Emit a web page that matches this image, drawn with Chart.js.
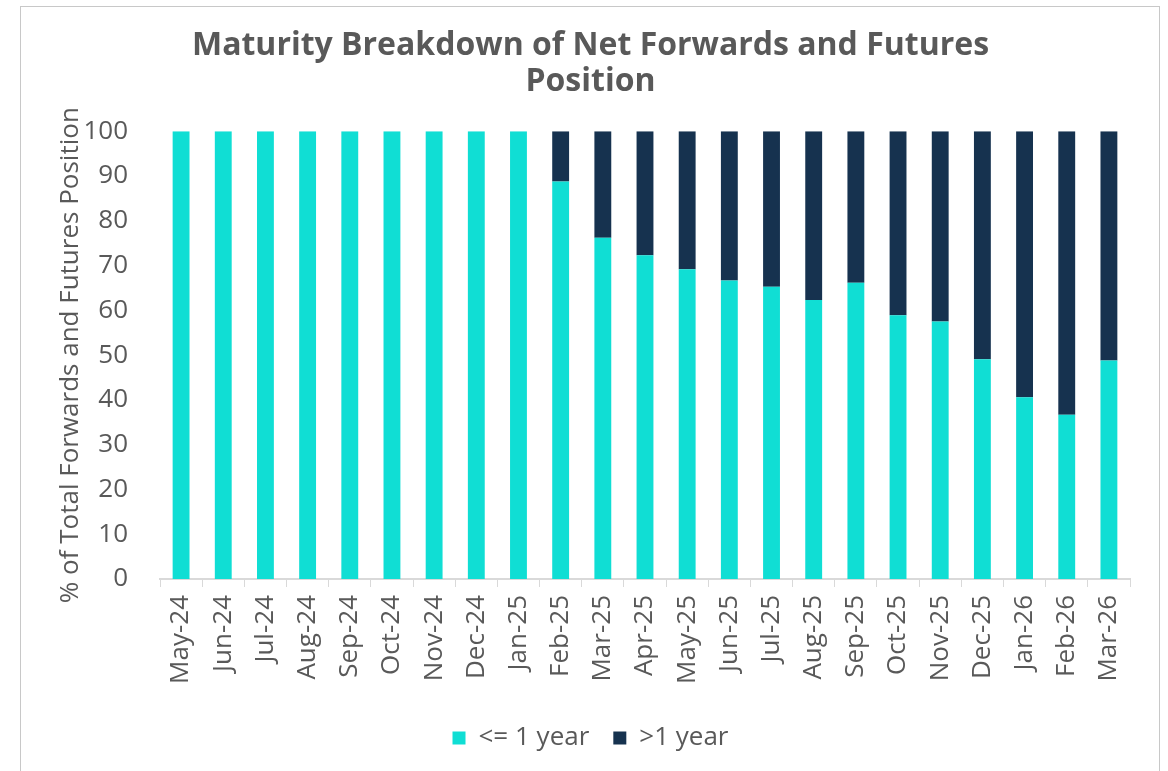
<!DOCTYPE html>
<html>
<head>
<meta charset="utf-8">
<script src="https://cdn.jsdelivr.net/npm/chart.js@4"></script>
<style>
  html, body { margin: 0; padding: 0; background: #fff; }
  #wrap { position: absolute; left: 0; top: 0; width: 1168px; height: 771px; }
</style>
</head>
<body>
<div id="wrap"><canvas id="barCanvas" width="1168" height="771"></canvas></div>
<script>
// months along the x axis
var months = ["May-24","Jun-24","Jul-24","Aug-24","Sep-24","Oct-24","Nov-24","Dec-24",
	"Jan-25","Feb-25","Mar-25","Apr-25","May-25","Jun-25","Jul-25","Aug-25","Sep-25",
	"Oct-25","Nov-25","Dec-25","Jan-26","Feb-26","Mar-26"];

// share of position maturing within one year (%)
var shortTerm = [100,100,100,100,100,100,100,100,100,88.8,76.2,72.3,69.2,66.7,65.3,62.3,66.2,58.9,57.5,49.1,40.6,36.7,48.8];

// share maturing beyond one year (%)
var longTerm = [0,0,0,0,0,0,0,0,0,11.2,23.8,27.7,30.8,33.3,34.7,37.7,33.8,41.1,42.5,50.9,59.4,63.3,51.2];

var yTicks = [0,10,20,30,40,50,60,70,80,90,100];

var textGray = "#595959";
Chart.defaults.font.family = "'Open Sans', 'Noto Sans', sans-serif";
Chart.defaults.color = textGray;

// light frame round the chart like the original export
var framePlugin = {
	id: "frame",
	beforeDraw: function(chart){
		var c = chart.ctx;
		c.save();
		c.strokeStyle = "#c8c8c8";
		c.lineWidth = 1;
		c.strokeRect(20.5, 6.5, 1139, 800);
		c.restore();
	}
};

var ctx = document.getElementById("barCanvas");
var barChart = new Chart(ctx, {
	type: "bar",
	data: {
		labels: months,
		datasets: [
			{ label: "<= 1 year", data: shortTerm, backgroundColor: "#10ded4", barPercentage: 0.8, categoryPercentage: 0.5 },
			{ label: ">1 year", data: longTerm, backgroundColor: "#16324f", barPercentage: 0.8, categoryPercentage: 0.5 }
		]
	},
	plugins: [framePlugin],
	options: {
		responsive: false,
		animation: false,
		layout: { padding: { left: 51, right: 38, top: 0, bottom: 10 } },
		plugins: {
			title: {
				display: true,
				text: ["Maturity Breakdown of Net Forwards and Futures", "Position"],
				color: textGray,
				font: { size: 32, weight: "bold", lineHeight: 1.13 },
				padding: { top: 28, bottom: 31 }
			},
			legend: {
				position: "bottom",
				labels: {
					boxWidth: 13,
					boxHeight: 13,
					padding: 24,
					color: textGray,
					font: { size: 26 }
				}
			},
			tooltip: { enabled: false }
		},
		scales: {
			x: {
				stacked: true,
				grid: { display: true, drawOnChartArea: false, color: "#d9d9d9", tickLength: 8, offset: true },
				border: { display: true, color: "#d9d9d9", width: 2 },
				ticks: { minRotation: 90, maxRotation: 90, padding: 8, font: { size: 26 }, color: textGray, autoSkip: false },
				afterFit: function(scale){ scale.height = 122; }
			},
			y: {
				stacked: true,
				min: 0,
				max: 100,
				afterBuildTicks: function(scale){ scale.ticks = yTicks.map(function(v){ return { value: v }; }); },
				grid: { display: false },
				border: { display: false },
				ticks: { padding: 24, font: { size: 26 }, color: textGray },
				title: {
					display: true,
					text: "% of Total Forwards and Futures Position",
					color: textGray,
					font: { size: 26 },
					padding: { top: 4, bottom: 0 }
				},
				afterFit: function(scale){ scale.width = 109; }
			}
		}
	}
});
</script>
</body>
</html>
